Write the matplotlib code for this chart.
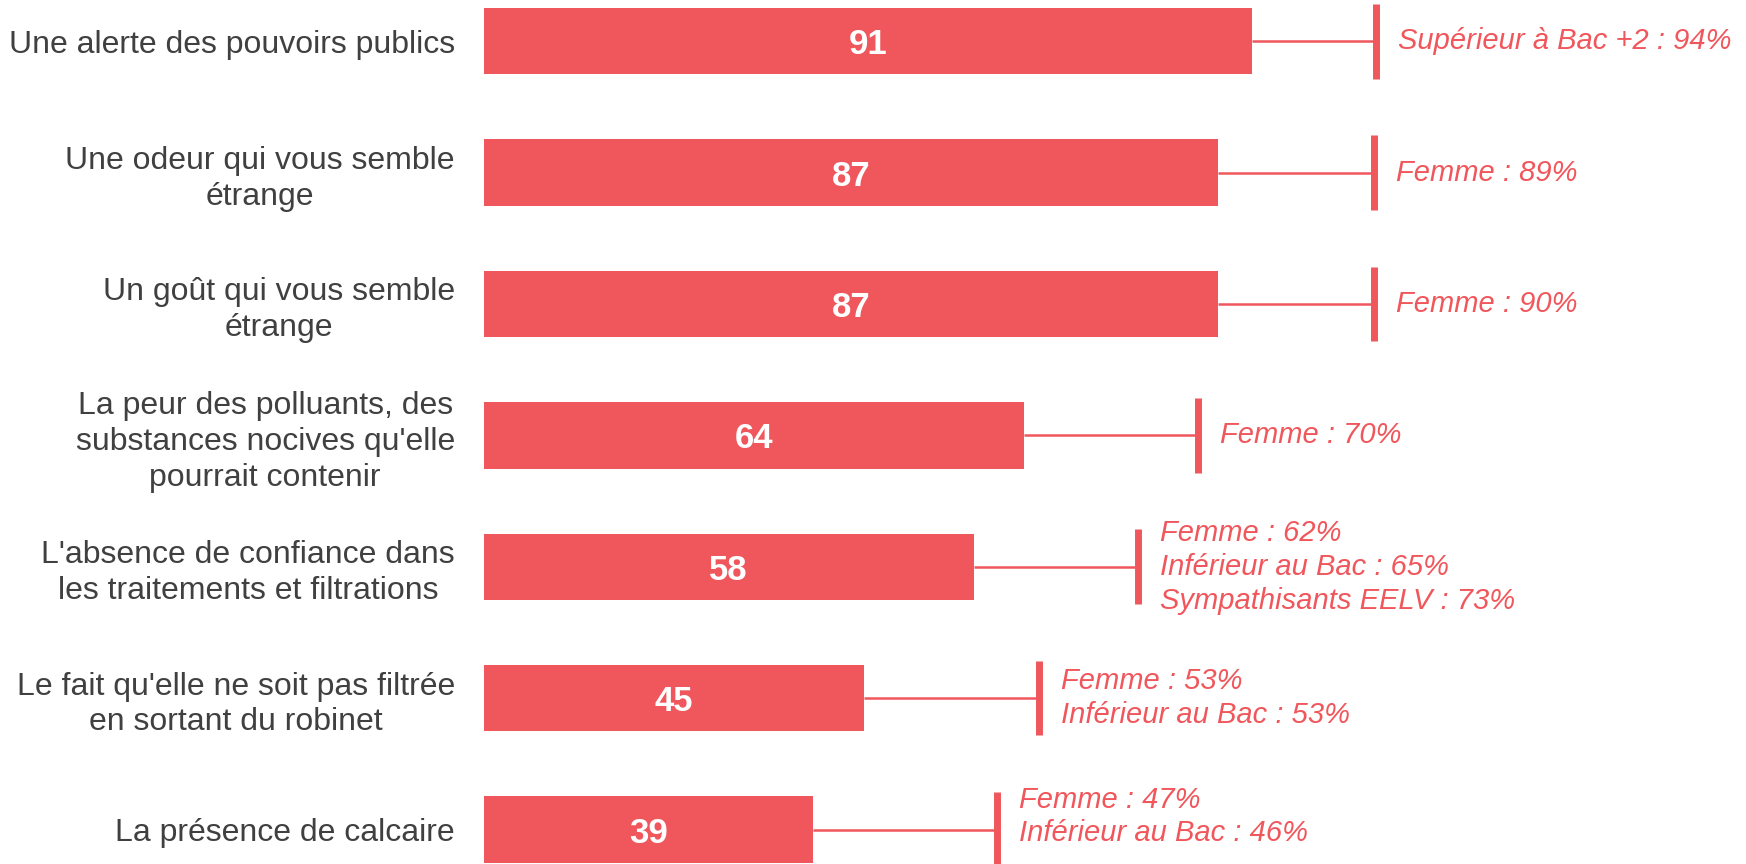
import matplotlib
matplotlib.use("Agg")
import numpy as np
import matplotlib.pyplot as plt

# data
categories = [
    "Une alerte des pouvoirs publics",
    "Une odeur qui vous semble\nétrange",
    "Un goût qui vous semble\nétrange",
    "La peur des polluants, des\nsubstances nocives qu'elle\npourrait contenir",
    "L'absence de confiance dans\nles traitements et filtrations",
    "Le fait qu'elle ne soit pas filtrée\nen sortant du robinet",
    "La présence de calcaire",
]
values = [91, 87, 87, 64, 58, 45, 39]
whisker_end = [105.7, 105.4, 105.4, 84.6, 77.5, 65.7, 60.8]
notes = [
    "Supérieur à Bac +2 : 94%",
    "Femme : 89%",
    "Femme : 90%",
    "Femme : 70%",
    "Femme : 62%\nInférieur au Bac : 65%\nSympathisants EELV : 73%",
    "Femme : 53%\nInférieur au Bac : 53%",
    "Femme : 47%\nInférieur au Bac : 46%",
]
note_shift = [0, 0, 0, 0, 0, 0, -0.1]

red = "#F0575C"
grey = "#404040"
plt.rcParams['font.family'] = ['Liberation Sans', 'DejaVu Sans']

fig = plt.figure(figsize=(17.46, 8.64), dpi=100)
ax = fig.add_axes([484 / 1746, 0, 1 - 484 / 1746, 1])

y = np.arange(len(values))
ax.barh(y, values, height=0.505, color=red)

for i, v in enumerate(values):
    ax.text(v / 2, i, str(v), ha='center', va='center_baseline', color='white',
            fontsize=25, fontweight='bold')
    # connector + cap
    ax.plot([v, whisker_end[i]], [i, i], color=red, lw=1.8, solid_capstyle='butt')
    ax.plot([whisker_end[i], whisker_end[i]], [i - 0.284, i + 0.284], color=red,
            lw=5, solid_capstyle='butt')
    ax.annotate(notes[i], (whisker_end[i], i + note_shift[i]), xytext=(16, 0),
                textcoords='offset points', ha='left', va='center', color=red,
                fontsize=21, fontstyle='italic', linespacing=1.26)

ax.set_xlim(0, 1262 / 8.44)
ax.set_ylim(6.262, -0.3135)
ax.set_yticks(y)
ax.set_yticklabels(categories, fontsize=23, color=grey, linespacing=1.25)
for t in ax.get_yticklabels():
    t.set_multialignment('center')
ax.tick_params(axis='y', length=0, pad=21)
ax.set_xticks([])
for s in ax.spines.values():
    s.set_visible(False)

fig.savefig("out.png", dpi=100)
